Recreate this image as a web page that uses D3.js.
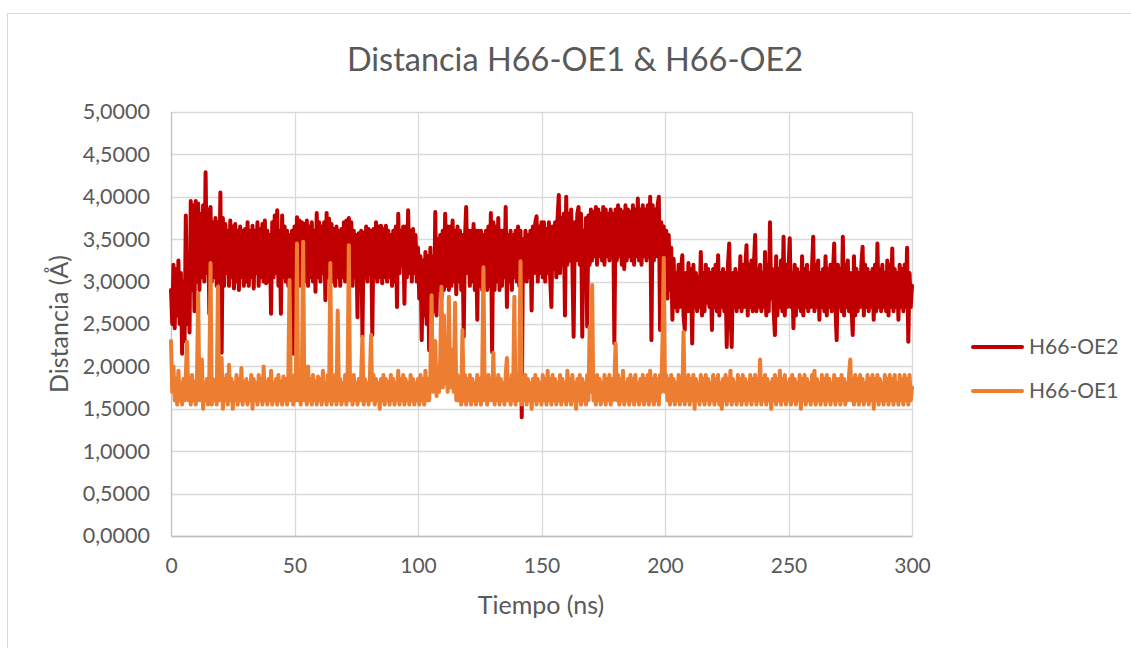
<!DOCTYPE html>
<html>
<head>
<meta charset="utf-8">
<script src="https://cdn.jsdelivr.net/npm/d3@7"></script>
<style>
  html, body { margin: 0; padding: 0; background: #fff; }
  svg { display: block; }
  text { font-family: Lato, "Liberation Sans", sans-serif; fill: #595959; }
</style>
</head>
<body>
<script>
// tiempo en ns, una muestra cada 0,5 ns
var tiempo = d3.range(0, 300.5, 0.5);

var serieNombres = ["H66-OE2", "H66-OE1"];
var serieColores = ["#c00000", "#ed7d31"];

// H66-OE2 (Å), una fila = 10 ns
var oe2 = [
  2.9, 2.5, 3.2, 2.45, 3.15, 2.6, 3.25, 2.5, 3.1, 2.15, 3.0, 2.3, 3.78, 2.5, 3.1, 2.4, 3.95, 2.9, 3.9, 2.65,
  3.95, 3.0, 3.92, 2.9, 3.8, 3.05, 3.9, 3.0, 4.29, 3.1, 3.85, 2.62, 3.88, 3.0, 3.7, 3.05, 3.75, 2.95, 3.7, 3.0,
  4.05, 2.16, 3.75, 2.95, 3.68, 3.1, 3.6, 2.95, 3.72, 3.05, 3.65, 2.92, 3.68, 3.0, 3.6, 2.9, 3.65, 3.05, 3.6, 2.95,
  3.62, 3.0, 3.7, 2.95, 3.6, 3.05, 3.66, 2.92, 3.6, 3.1, 3.7, 2.95, 3.62, 3.05, 3.68, 3.0, 3.72, 2.98, 3.6, 3.0,
  3.55, 2.62, 3.7, 3.05, 3.78, 3.1, 3.84, 2.95, 3.6, 2.62, 3.78, 3.05, 3.65, 3.0, 3.6, 2.95, 3.55, 3.0, 3.6, 2.15,
  3.65, 3.0, 3.76, 3.05, 3.72, 2.95, 3.7, 3.1, 3.68, 3.0, 3.72, 2.95, 3.65, 3.05, 3.7, 3.0, 3.6, 2.88, 3.81, 3.05,
  3.7, 3.0, 3.65, 3.1, 3.7, 2.78, 3.81, 3.05, 3.74, 3.1, 3.68, 3.0, 3.62, 2.95, 3.65, 3.05, 3.6, 2.95, 3.62, 3.05,
  3.7, 3.0, 3.72, 3.05, 3.75, 3.0, 3.7, 2.95, 3.6, 3.05, 3.55, 2.58, 3.57, 3.0, 3.6, 2.35, 3.58, 3.05, 3.65, 3.0,
  3.62, 3.1, 3.6, 2.37, 3.62, 3.05, 3.7, 3.0, 3.65, 3.05, 3.66, 2.98, 3.62, 3.05, 3.66, 3.0, 3.6, 3.05, 3.55, 2.95,
  3.6, 3.0, 3.65, 2.7, 3.8, 3.1, 3.6, 3.2, 3.65, 2.74, 3.65, 3.05, 3.84, 3.1, 3.6, 3.0, 3.62, 3.1, 3.55, 3.0,
  3.4, 2.8, 3.3, 2.31, 3.25, 2.6, 3.35, 2.5, 3.3, 2.19, 3.4, 2.4, 3.3, 2.65, 3.82, 2.6, 3.5, 2.9, 3.55, 2.8,
  3.6, 2.9, 3.8, 2.95, 3.65, 2.9, 3.65, 2.95, 3.72, 3.0, 3.6, 2.85, 3.65, 3.0, 3.6, 2.9, 3.55, 2.35, 3.5, 3.88,
  3.1, 3.6, 2.95, 3.6, 3.0, 3.68, 2.9, 3.6, 2.55, 3.6, 2.95, 3.6, 2.9, 3.55, 3.0, 3.6, 2.9, 3.65, 2.95, 3.81,
  2.17, 3.7, 2.9, 3.65, 3.0, 3.75, 2.9, 3.6, 2.95, 3.6, 3.05, 3.88, 2.7, 3.55, 3.0, 3.6, 2.9, 3.55, 3.05, 3.6,
  3.0, 3.65, 2.95, 3.6, 1.4, 3.5, 3.1, 3.6, 3.0, 3.55, 3.05, 3.6, 2.66, 3.65, 3.1, 3.7, 3.77, 3.0, 3.65, 3.1,
  3.7, 3.05, 3.7, 3.0, 3.62, 3.1, 3.7, 3.05, 2.7, 3.65, 3.15, 3.7, 3.05, 3.75, 4.02, 3.1, 3.75, 3.2, 3.8, 2.6,
  4.0, 3.2, 3.8, 3.25, 3.85, 3.2, 2.35, 3.7, 3.25, 3.8, 3.88, 3.2, 3.8, 2.35, 3.6, 3.25, 3.75, 2.47, 3.78, 3.2,
  3.85, 3.25, 3.82, 3.3, 3.88, 3.2, 3.85, 3.3, 3.8, 3.25, 3.88, 3.2, 3.85, 3.3, 3.8, 3.25, 3.85, 3.3, 3.8, 2.27,
  3.85, 3.25, 3.9, 3.3, 3.85, 3.2, 3.82, 3.15, 3.9, 3.25, 3.85, 3.3, 3.82, 3.25, 3.9, 3.2, 3.85, 3.3, 3.98, 3.25,
  3.85, 3.2, 3.9, 3.3, 3.85, 3.25, 3.9, 3.3, 4.0, 2.31, 3.9, 3.25, 3.85, 3.3, 3.9, 4.0, 2.43, 3.7, 3.2, 3.65,
  2.85, 3.6, 2.8, 3.55, 2.9, 3.4, 2.55, 3.27, 2.7, 3.1, 2.65, 3.2, 2.7, 3.15, 3.31, 2.6, 2.43, 3.1, 2.65, 3.22,
  2.65, 3.15, 2.27, 3.2, 2.7, 3.1, 2.65, 3.05, 2.7, 3.35, 2.6, 3.1, 2.65, 3.2, 2.75, 3.15, 2.7, 3.1, 2.43, 3.15,
  2.7, 3.2, 2.65, 3.31, 2.6, 3.1, 2.7, 3.15, 2.65, 3.1, 2.23, 3.2, 3.45, 2.65, 2.23, 3.1, 2.7, 3.15, 2.65, 3.1,
  2.7, 3.3, 2.65, 3.2, 2.7, 3.15, 3.43, 2.6, 3.2, 2.7, 3.25, 2.65, 3.2, 3.55, 2.65, 3.15, 2.7, 3.2, 2.65, 3.1,
  2.7, 3.35, 2.6, 3.2, 2.65, 3.7, 2.8, 3.15, 2.65, 2.37, 3.3, 2.6, 3.15, 2.7, 3.25, 2.65, 3.53, 2.6, 3.2, 2.7,
  3.15, 3.51, 2.7, 3.1, 2.45, 3.2, 2.6, 3.15, 2.7, 3.1, 2.65, 3.3, 2.6, 3.15, 2.7, 3.2, 2.65, 3.1, 2.7, 3.15,
  3.53, 2.65, 3.2, 2.7, 3.25, 2.55, 3.1, 2.7, 3.15, 2.65, 3.3, 2.6, 3.15, 2.7, 3.2, 2.65, 3.1, 3.45, 2.7, 2.31,
  3.2, 2.7, 3.15, 2.65, 3.53, 2.6, 3.2, 2.7, 3.25, 2.65, 3.1, 2.7, 2.37, 3.3, 2.6, 3.15, 2.65, 3.1, 2.7, 3.2,
  3.41, 2.6, 3.2, 2.7, 3.15, 2.65, 3.1, 2.7, 3.15, 2.55, 3.2, 2.65, 3.45, 2.7, 3.15, 2.65, 3.2, 2.7, 3.1, 2.65,
  3.25, 2.6, 3.2, 2.7, 3.39, 2.65, 3.15, 2.7, 3.1, 2.55, 3.2, 2.7, 3.15, 2.65, 3.2, 2.7, 3.4, 2.29, 3.1, 2.7,
  2.95
];

// H66-OE1 (Å)
var oe1 = [
  2.3, 1.7, 2.0, 1.6, 1.85, 1.55, 1.95, 1.6, 1.8, 1.55, 1.85, 1.6, 1.9, 2.29, 1.6, 1.85, 1.55, 1.9, 1.6, 1.82,
  1.55, 1.8, 2.86, 1.6, 1.85, 2.08, 1.5, 1.8, 1.6, 1.85, 1.55, 1.8, 3.22, 1.55, 1.85, 1.6, 1.82, 1.55, 2.94, 1.6,
  1.85, 2.1, 1.5, 1.85, 1.6, 1.9, 1.55, 2.02, 1.6, 1.85, 1.5, 1.8, 1.6, 1.9, 1.55, 1.85, 1.6, 1.98, 1.55, 1.82,
  1.6, 1.85, 1.55, 1.8, 1.6, 1.9, 1.5, 1.85, 1.6, 1.8, 1.55, 1.9, 1.6, 1.85, 1.55, 2.0, 1.6, 1.82, 1.55, 1.85,
  1.6, 1.95, 1.55, 1.8, 1.6, 1.85, 1.55, 1.9, 1.6, 1.82, 1.55, 1.88, 1.6, 1.85, 1.55, 1.9, 3.02, 1.6, 1.85, 1.55,
  1.9, 1.6, 3.45, 1.6, 1.85, 1.55, 1.9, 3.47, 1.6, 1.85, 1.55, 2.0, 1.6, 1.85, 1.55, 1.9, 1.6, 1.82, 1.55, 1.88,
  1.6, 1.85, 1.55, 1.95, 1.6, 1.8, 1.55, 1.9, 1.6, 3.22, 1.55, 1.85, 1.6, 1.9, 1.55, 2.66, 1.6, 1.85, 1.55, 1.8,
  1.6, 1.9, 1.55, 1.85, 3.43, 1.6, 1.85, 1.55, 1.9, 1.6, 1.8, 1.55, 1.85, 1.6, 1.9, 2.35, 1.55, 1.85, 1.6, 1.8,
  1.55, 1.85, 2.37, 1.6, 1.9, 1.55, 1.85, 1.6, 1.8, 1.5, 1.85, 1.6, 1.9, 1.55, 1.85, 1.6, 1.82, 1.55, 1.9, 1.6,
  1.85, 1.55, 1.8, 1.6, 1.95, 1.55, 1.85, 1.6, 1.9, 1.55, 1.85, 1.6, 1.8, 1.55, 1.9, 1.6, 1.85, 1.55, 1.8, 1.6,
  1.85, 1.55, 1.9, 1.6, 1.85, 1.55, 1.95, 1.6, 1.85, 1.6, 1.9, 2.84, 1.7, 1.95, 2.3, 1.65, 2.0, 1.7, 2.1, 2.94,
  1.75, 2.6, 1.8, 2.2, 1.7, 2.82, 1.75, 2.0, 2.2, 1.7, 2.75, 1.6, 1.9, 1.6, 1.85, 1.55, 2.43, 1.6, 1.9, 1.55,
  1.85, 1.6, 1.9, 1.55, 1.85, 1.6, 1.8, 1.55, 1.9, 1.6, 1.85, 1.55, 1.9, 3.17, 1.6, 1.85, 1.55, 1.9, 1.6, 1.85,
  1.6, 2.16, 1.55, 1.85, 1.6, 1.9, 1.55, 1.85, 1.6, 1.8, 1.55, 1.9, 2.1, 1.6, 1.85, 1.55, 1.9, 1.6, 2.82, 1.55,
  1.85, 1.6, 1.9, 3.24, 1.55, 1.85, 1.6, 1.9, 1.55, 1.85, 1.6, 1.8, 1.5, 1.85, 1.6, 1.9, 1.55, 1.85, 1.6, 1.8,
  1.55, 1.9, 1.6, 1.85, 1.55, 1.95, 1.6, 1.85, 1.55, 1.9, 1.6, 1.85, 1.55, 1.8, 1.6, 1.9, 1.55, 1.85, 1.6, 1.8,
  1.55, 1.95, 1.6, 1.85, 1.55, 1.9, 1.6, 1.8, 1.5, 1.85, 1.6, 1.9, 1.55, 1.85, 1.6, 1.8, 1.55, 1.9, 1.6, 2.47,
  1.7, 2.96, 1.6, 1.85, 1.55, 1.9, 1.6, 1.85, 1.55, 1.8, 1.6, 1.9, 1.55, 1.85, 1.6, 1.9, 1.55, 1.85, 1.6, 1.8,
  2.27, 1.6, 1.9, 1.55, 1.85, 1.6, 1.95, 1.55, 1.8, 1.6, 1.85, 1.55, 1.9, 1.6, 1.85, 1.55, 1.9, 1.6, 1.8, 1.55,
  1.85, 1.6, 1.9, 1.55, 1.85, 1.6, 1.9, 1.55, 1.95, 1.6, 1.85, 1.55, 1.9, 1.6, 1.85, 1.55, 1.9, 1.7, 2.31, 3.28,
  1.7, 1.9, 1.6, 1.85, 1.55, 1.9, 1.6, 1.85, 1.55, 1.8, 1.6, 1.9, 1.55, 1.85, 1.6, 2.41, 1.55, 1.85, 1.6, 1.9,
  1.55, 1.85, 1.6, 1.9, 1.5, 1.85, 1.6, 1.8, 1.55, 1.9, 1.6, 1.85, 1.55, 1.9, 1.6, 1.85, 1.55, 1.8, 1.6, 1.9,
  1.55, 1.85, 1.6, 1.9, 1.55, 1.8, 1.5, 1.85, 1.6, 1.9, 1.55, 1.85, 1.6, 1.95, 1.55, 1.85, 1.6, 1.8, 1.55, 1.9,
  1.6, 1.85, 1.55, 1.9, 1.6, 1.85, 1.55, 1.8, 1.6, 1.9, 1.55, 1.85, 1.6, 1.9, 1.55, 1.85, 1.6, 2.08, 1.55, 1.85,
  1.6, 1.9, 1.55, 1.85, 1.6, 1.8, 1.5, 1.85, 1.6, 1.9, 1.55, 1.85, 1.6, 1.95, 1.55, 1.85, 1.6, 1.9, 1.55, 1.8,
  1.6, 1.85, 1.55, 1.9, 1.6, 1.85, 1.55, 1.8, 1.6, 1.9, 1.5, 1.85, 1.6, 1.9, 1.55, 1.85, 1.6, 1.8, 1.55, 1.9,
  1.6, 1.95, 1.55, 1.85, 1.6, 1.8, 1.55, 1.9, 1.6, 1.85, 1.55, 1.9, 1.6, 1.85, 1.55, 1.8, 1.6, 1.9, 1.55, 1.85,
  1.6, 1.85, 1.55, 1.9, 1.6, 1.85, 1.55, 1.8, 1.6, 1.9, 2.08, 1.6, 1.85, 1.55, 1.9, 1.6, 1.85, 1.55, 1.9, 1.6,
  1.85, 1.55, 1.8, 1.6, 1.9, 1.55, 1.85, 1.6, 1.9, 1.5, 1.85, 1.6, 1.9, 1.55, 1.85, 1.6, 1.8, 1.55, 1.9, 1.6,
  1.85, 1.55, 1.9, 1.6, 1.85, 1.55, 1.9, 1.6, 1.8, 1.55, 1.9, 1.6, 1.85, 1.55, 1.9, 1.6, 1.85, 1.55, 1.9, 1.6,
  1.75
];

var xTicks = [0, 50, 100, 150, 200, 250, 300];
var yTicks = [0, 0.5, 1, 1.5, 2, 2.5, 3, 3.5, 4, 4.5, 5];

var w = 1131;
var h = 648;
var plot = { left: 171, right: 912, top: 112, bottom: 536 };

var svg = d3.select("body")
    .append("svg")
    .attr("width", w)
    .attr("height", h);

// borde del area del grafico
svg.append("rect")
    .attr("x", 7.5)
    .attr("y", 13.5)
    .attr("width", 1140)
    .attr("height", 660)
    .attr("fill", "none")
    .attr("stroke", "#d9d9d9")
    .attr("stroke-width", 1);

var xScale = d3.scaleLinear()
    .domain([0, 300])
    .range([plot.left, plot.right]);
var yScale = d3.scaleLinear()
    .domain([0, 5])
    .range([plot.bottom, plot.top]);

// rejilla
svg.append("g")
    .selectAll("line")
    .data(yTicks)
    .enter()
    .append("line")
    .attr("x1", plot.left)
    .attr("x2", plot.right)
    .attr("y1", function (d) { return Math.round(yScale(d)) + 0.5; })
    .attr("y2", function (d) { return Math.round(yScale(d)) + 0.5; })
    .attr("stroke", "#d9d9d9")
    .attr("stroke-width", 1.3);

svg.append("g")
    .selectAll("line")
    .data(xTicks)
    .enter()
    .append("line")
    .attr("x1", function (d) { return Math.round(xScale(d)) + 0.5; })
    .attr("x2", function (d) { return Math.round(xScale(d)) + 0.5; })
    .attr("y1", plot.top)
    .attr("y2", plot.bottom)
    .attr("stroke", function (d) { return d === 0 ? "#bfbfbf" : "#d9d9d9"; })
    .attr("stroke-width", 1.3);

// ejes (solo etiquetas)
var xAxis = d3.axisBottom(xScale)
    .tickValues(xTicks)
    .tickSize(0)
    .tickPadding(22)
    .tickFormat(d3.format("d"));
var gx = svg.append("g")
    .attr("transform", "translate(0," + plot.bottom + ")")
    .call(xAxis);
gx.select(".domain").attr("stroke", "#bfbfbf").attr("stroke-width", 1.3);
gx.selectAll("text")
    .attr("font-family", "Lato, sans-serif")
    .attr("font-size", "21px")
    .attr("fill", "#595959");

var fmtY = function (d) { return d3.format(".4f")(d).replace(".", ","); };
var yAxis = d3.axisLeft(yScale)
    .tickValues(yTicks)
    .tickSize(0)
    .tickPadding(21)
    .tickFormat(fmtY);
var gy = svg.append("g")
    .attr("transform", "translate(" + plot.left + ",0)")
    .call(yAxis);
gy.select(".domain").remove();
gy.selectAll("text")
    .attr("font-family", "Lato, sans-serif")
    .attr("font-size", "21.5px")
    .attr("fill", "#595959");

// series
var series = [oe2, oe1];
var line = d3.line()
    .x(function (d, i) { return xScale(tiempo[i]); })
    .y(function (d) { return yScale(d); });

svg.append("g")
    .selectAll("path")
    .data(series)
    .enter()
    .append("path")
    .attr("d", function (d) { return line(d); })
    .attr("fill", "none")
    .attr("stroke", function (d, i) { return serieColores[i]; })
    .attr("stroke-width", 4)
    .attr("stroke-linejoin", "round")
    .attr("stroke-linecap", "round");

// titulos
svg.append("text")
    .text("Distancia H66-OE1 & H66-OE2")
    .attr("x", 575)
    .attr("y", 71)
    .attr("text-anchor", "middle")
    .attr("font-size", "32.5px");

svg.append("text")
    .text("Tiempo (ns)")
    .attr("x", 541)
    .attr("y", 614)
    .attr("text-anchor", "middle")
    .attr("font-size", "25px");

svg.append("text")
    .text("Distancia (Å)")
    .attr("transform", "translate(68,324) rotate(-90)")
    .attr("text-anchor", "middle")
    .attr("font-size", "25px");

// leyenda
var legend = svg.append("g")
    .selectAll("g")
    .data(serieNombres)
    .enter()
    .append("g")
    .attr("transform", function (d, i) { return "translate(971," + (347 + i * 44) + ")"; });

legend.append("line")
    .attr("x1", 2)
    .attr("x2", 51)
    .attr("y1", 0)
    .attr("y2", 0)
    .attr("stroke", function (d, i) { return serieColores[i]; })
    .attr("stroke-width", 4)
    .attr("stroke-linecap", "round");

legend.append("text")
    .text(function (d) { return d; })
    .attr("x", 58)
    .attr("y", 0)
    .attr("dy", "0.35em")
    .attr("font-size", "21px");
</script>
</body>
</html>
